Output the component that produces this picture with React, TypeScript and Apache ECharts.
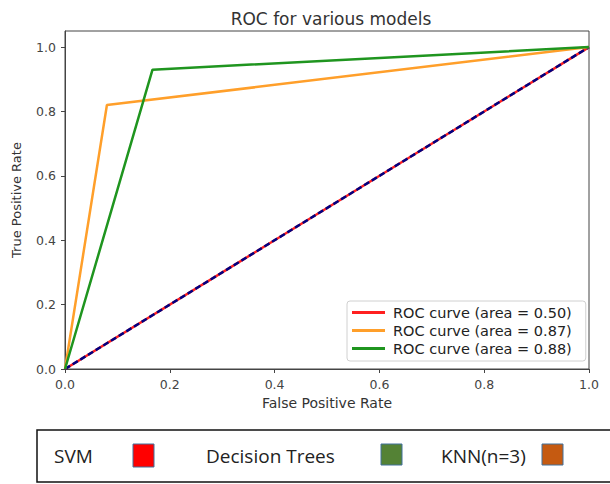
import React, { useEffect, useRef } from "react";
import * as echarts from "echarts";

const randomFpr = [0, 1];
const randomTpr = [0, 1];
const treeFpr = [0, 0.08, 1];
const treeTpr = [0, 0.82, 1];
const knnFpr = [0, 0.167, 1];
const knnTpr = [0, 0.93, 1];
const legendNames = [
  "ROC curve (area = 0.50)",
  "ROC curve (area = 0.87)",
  "ROC curve (area = 0.88)",
];
const bottomLabels = ["SVM", "Decision Trees", "KNN(n=3)"];
const bottomColors = ["#ff0000", "#548235", "#c55a11"];

const pairs = (xs: number[], ys: number[]) => xs.map((x, i) => [x, ys[i]]);

export default function App() {
  const ref = useRef<HTMLDivElement>(null);
  useEffect(() => {
    if (!ref.current) return;
    const chart = echarts.init(ref.current, null, { renderer: "svg" });
    const font = "DejaVu Sans";
    const fmt = (v: number) => (Math.abs(v * 5 - Math.round(v * 5)) < 1e-6 ? v.toFixed(1) : "");
    const bt = { fontSize: 19, fontFamily: "Open Sans", fill: "#222", verticalAlign: "middle" };
    chart.setOption({
      animation: false,
      backgroundColor: "#ffffff",
      textStyle: { fontFamily: font },
      title: {
        text: "ROC for various models",
        left: 326,
        textAlign: "center",
        top: 5,
        textStyle: { fontSize: 17, fontWeight: "normal", color: "#333", fontFamily: font },
      },
      grid: {
        left: 65,
        right: 21,
        top: 31,
        bottom: 115,
        show: true,
        borderColor: "#444",
        borderWidth: 1,
        backgroundColor: "transparent",
      },
      legend: {
        orient: "vertical",
        left: 347,
        top: 301,
        data: legendNames,
        icon: "rect",
        itemWidth: 33,
        itemHeight: 3,
        itemGap: 3,
        backgroundColor: "#fff",
        borderColor: "#d0d0d0",
        borderWidth: 1,
        borderRadius: 3,
        padding: [4, 14, 5, 5],
        textStyle: { fontSize: 14.5, color: "#222", fontFamily: font, padding: [0, 0, 0, 3] },
      },
      xAxis: {
        type: "value",
        min: 0,
        max: 1,
        interval: 0.2,
        name: "False Positive Rate",
        nameLocation: "middle",
        nameGap: 27,
        nameTextStyle: { fontSize: 14, color: "#333", fontFamily: font },
        axisLine: { show: true, lineStyle: { color: "#444" } },
        axisTick: { show: true, inside: false, length: 4, lineStyle: { color: "#444" } },
        axisLabel: { fontSize: 12.5, color: "#444", margin: 9, formatter: fmt },
        splitLine: { show: false },
      },
      yAxis: {
        type: "value",
        min: 0,
        max: 1.05,
        interval: 0.2,
        name: "True Positive Rate",
        nameLocation: "middle",
        nameGap: 42,
        nameTextStyle: { fontSize: 13, color: "#333", fontFamily: font },
        axisLine: { show: true, lineStyle: { color: "#444" } },
        axisTick: { show: true, inside: false, length: 4, lineStyle: { color: "#444" } },
        axisLabel: { fontSize: 12.5, color: "#444", margin: 9, formatter: fmt, showMaxLabel: false },
        splitLine: { show: false },
      },
      series: [
        {
          name: legendNames[0],
          type: "line",
          data: pairs(randomFpr, randomTpr),
          showSymbol: false,
          symbol: "none",
          lineStyle: { color: "#ff2020", width: 2.5 },
          itemStyle: { color: "#ff2020" },
        },
        {
          name: "diag",
          type: "line",
          data: pairs(randomFpr, randomTpr),
          showSymbol: false,
          symbol: "none",
          lineStyle: { color: "#000080", width: 2.5, type: [6, 3] },
          itemStyle: { color: "#000080" },
        },
        {
          name: legendNames[1],
          type: "line",
          data: pairs(treeFpr, treeTpr),
          showSymbol: false,
          symbol: "none",
          lineStyle: { color: "#ff9f2a", width: 2.5 },
          itemStyle: { color: "#ff9f2a" },
        },
        {
          name: legendNames[2],
          type: "line",
          data: pairs(knnFpr, knnTpr),
          showSymbol: false,
          symbol: "none",
          lineStyle: { color: "#1f951f", width: 2.5 },
          itemStyle: { color: "#1f951f" },
        },
      ],
      graphic: [
        {
          type: "rect",
          shape: { x: 37, y: 430, width: 600, height: 52 },
          style: { fill: "#fff", stroke: "#111", lineWidth: 1.5 },
        },
        { type: "text", x: 54, y: 456, style: { ...bt, text: bottomLabels[0] } },
        {
          type: "rect",
          shape: { x: 133, y: 444, width: 21, height: 23 },
          style: { fill: bottomColors[0], stroke: "#41719c", lineWidth: 1 },
        },
        { type: "text", x: 206, y: 456, style: { ...bt, text: bottomLabels[1] } },
        {
          type: "rect",
          shape: { x: 381, y: 444, width: 21, height: 21 },
          style: { fill: bottomColors[1], stroke: "#41719c", lineWidth: 1 },
        },
        { type: "text", x: 441, y: 456, style: { ...bt, text: bottomLabels[2] } },
        {
          type: "rect",
          shape: { x: 542, y: 444, width: 21, height: 21 },
          style: { fill: bottomColors[2], stroke: "#41719c", lineWidth: 1 },
        },
      ],
    });
    return () => chart.dispose();
  }, []);
  return (
    <div
      ref={ref}
      style={{ position: "fixed", left: 0, top: 0, width: 610, height: 484 }}
    />
  );
}
